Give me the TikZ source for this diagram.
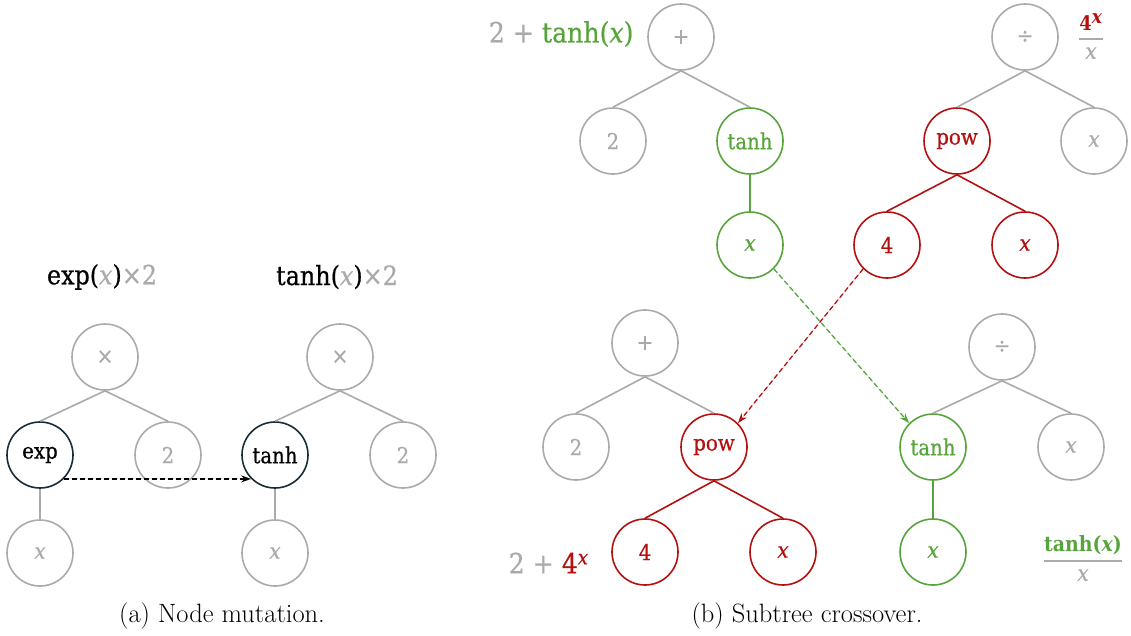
\documentclass[tikz,border=0pt]{standalone}
\usepackage{fontspec}
\newfontfamily\lblfont{DejaVu Serif Condensed}[FakeBold=0.6]
\newfontfamily\lblbold{DejaVu Serif Condensed Bold}
\usetikzlibrary{arrows.meta}
\definecolor{treegray}{RGB}{170,170,170}
\definecolor{treegreen}{RGB}{88,164,60}
\definecolor{treered}{RGB}{180,16,16}
\definecolor{treenavy}{RGB}{22,44,54}
\newcommand{\vx}{{\itshape x}}
\newcommand{\lblsize}{\fontsize{22}{26}\selectfont}
\newcommand{\exprsize}{\fontsize{28}{33}\selectfont}
% stacked fraction with a thick rule
\newcommand{\stackfrac}[3]{$\displaystyle{\mbox{#2}\above #1 \mbox{#3}}$}

\begin{document}
\begin{tikzpicture}[x=1pt,y=-1pt,
  tnode/.style={circle,draw,line width=1.6pt,minimum size=66pt,inner sep=0pt,font=\lblfont\lblsize},
  gnode/.style={tnode,draw=treegray,text=treegray},
  grnode/.style={tnode,draw=treegreen,text=treegreen},
  rdnode/.style={tnode,draw=treered,text=treered},
  bknode/.style={tnode,draw=treenavy,text=black},
  gedge/.style={draw=treegray,line width=1.6pt},
  gredge/.style={draw=treegreen,line width=1.6pt},
  rdedge/.style={draw=treered,line width=1.6pt},
  swap/.style={line width=1.3pt,dash pattern=on 5pt off 3pt,-{Stealth[length=10pt,width=7pt]}},
  title/.style={font=\lblfont\fontsize{26.5}{31}\selectfont},
  expr/.style={font=\lblfont\exprsize},
  caption/.style={font=\fontsize{26.5}{31}\selectfont}
]
\useasboundingbox (0,0) rectangle (1131,635);

% ---------- (a) node mutation ----------
\node[title] (ta) at (102,277) {exp({\color{treegray}\vx}){\color{treegray}×2}};
\node[title] (tb) at (337,277) {tanh({\color{treegray}\vx}){\color{treegray}×2}};

\node[gnode] (am) at (105,357) {×};
\node[bknode] (aexp) at (40,455) {exp};
\node[gnode] (a2) at (168,455) {2};
\node[gnode] (ax) at (40,553) {\vx};
\draw[gedge] (am.south) -- (aexp.north);
\draw[gedge] (am.south) -- (a2.north);
\draw[gedge] (aexp.south) -- (ax.north);

\node[gnode] (bm) at (340,357) {×};
\node[bknode] (btanh) at (275,455) {tanh};
\node[gnode] (b2) at (403,455) {2};
\node[gnode] (bx) at (275,553) {\vx};
\draw[gedge] (bm.south) -- (btanh.north);
\draw[gedge] (bm.south) -- (b2.north);
\draw[gedge] (btanh.south) -- (bx.north);

\draw[swap,draw=black,fill=black] (aexp.south east) -- (btanh.south west);

\node[caption] (capa) at (222,616) {(a) Node mutation.};

% ---------- (b) subtree crossover: parents ----------
\node[gnode] (p1) at (681,37) {+};
\node[gnode] (p1a) at (613,141) {2};
\node[grnode] (p1b) at (750,141) {tanh};
\node[grnode] (p1c) at (750,245) {\vx};
\draw[gedge] (p1.south) -- (p1a.north);
\draw[gedge] (p1.south) -- (p1b.north);
\draw[gredge] (p1b.south) -- (p1c.north);
\node[expr,anchor=east] (e1) at (637,34) {{\color{treegray}2 + }{\color{treegreen}tanh(\vx)}};

\node[gnode] (q1) at (1025,37) {÷};
\node[rdnode] (q1a) at (957,141) {pow};
\node[gnode] (q1b) at (1094,141) {\vx};
\node[rdnode] (q1c) at (887,245) {4};
\node[rdnode] (q1d) at (1025,245) {\vx};
\draw[gedge] (q1.south) -- (q1a.north);
\draw[gedge] (q1.south) -- (q1b.north);
\draw[rdedge] (q1a.south) -- (q1c.north);
\draw[rdedge] (q1a.south) -- (q1d.north);
\node[font=\lblfont\fontsize{22}{26}\selectfont,inner sep=0pt,text=treegray] (e2) at (1091,36)
  {\stackfrac{2pt}{\color{treered}\lblbold\fontsize{20}{24}\selectfont 4$^{\mbox{\lblbold\fontsize{19}{22}\selectfont\itshape x}}$}{\vx}};

% ---------- (b) subtree crossover: offspring ----------
\node[gnode] (c1) at (645,343) {+};
\node[gnode] (c1a) at (576,447) {2};
\node[rdnode] (c1b) at (714,447) {pow};
\node[rdnode] (c1c) at (645,552) {4};
\node[rdnode] (c1d) at (783,552) {\vx};
\draw[gedge] (c1.south) -- (c1a.north);
\draw[gedge] (c1.south) -- (c1b.north);
\draw[rdedge] (c1b.south) -- (c1c.north);
\draw[rdedge] (c1b.south) -- (c1d.north);
\node[expr,anchor=east] (e3) at (592,563) {{\color{treegray}2 + }{\color{treered}4$^{\mbox{\lblfont\fontsize{20}{24}\selectfont\vx}}$}};

\node[gnode] (d1) at (1002,347) {÷};
\node[grnode] (d1a) at (933,447) {tanh};
\node[gnode] (d1b) at (1071,447) {\vx};
\node[grnode] (d1c) at (933,552) {\vx};
\draw[gedge] (d1.south) -- (d1a.north);
\draw[gedge] (d1.south) -- (d1b.north);
\draw[gredge] (d1a.south) -- (d1c.north);
\node[font=\lblfont\fontsize{22}{26}\selectfont,inner sep=0pt,text=treegray] (e4) at (1083,558)
  {\stackfrac{2pt}{\color{treegreen}\lblbold\fontsize{21}{25}\selectfont tanh({\itshape x})}{\vx}};

% ---------- swapped subtrees ----------
\draw[swap,draw=treegreen,fill=treegreen] (p1c.south east) -- (d1a.north west);
\draw[swap,draw=treered,fill=treered] (q1c.south west) -- (c1b.north east);

\node[caption] (capb) at (807,616) {(b) Subtree crossover.};
\end{tikzpicture}
\end{document}
